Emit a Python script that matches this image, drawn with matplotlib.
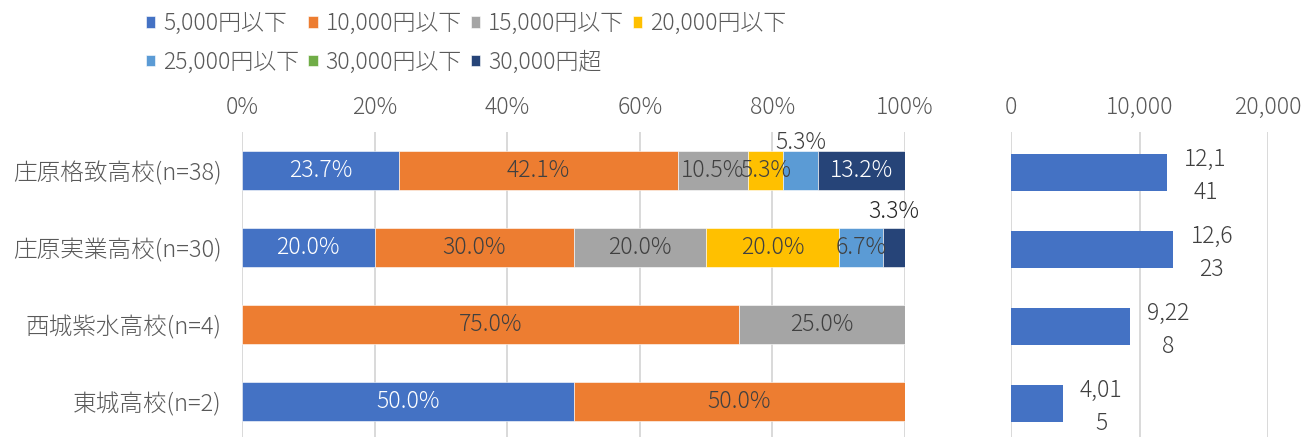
import matplotlib
matplotlib.use("Agg")
import matplotlib.pyplot as plt
import numpy as np

plt.rcParams['font.family'] = ['Noto Sans CJK JP', 'DejaVu Sans']
plt.rcParams['font.weight'] = 'light'

categories = ["庄原格致高校(n=38)", "庄原実業高校(n=30)", "西城紫水高校(n=4)", "東城高校(n=2)"]
series_names = ["5,000円以下", "10,000円以下", "15,000円以下", "20,000円以下",
                "25,000円以下", "30,000円以下", "30,000円超"]
shares = [
    [23.7, 42.1, 10.5, 5.3, 5.3, 0.0, 13.2],
    [20.0, 30.0, 20.0, 20.0, 6.7, 0.0, 3.3],
    [0.0, 75.0, 25.0, 0.0, 0.0, 0.0, 0.0],
    [50.0, 50.0, 0.0, 0.0, 0.0, 0.0, 0.0],
]
amounts = [12141, 12623, 9228, 4015]
pct_ticks = [0, 20, 40, 60, 80, 100]
amt_ticks = [0, 10000, 20000]

colors = ["#4472C4", "#ED7D31", "#A5A5A5", "#FFC000", "#5B9BD5", "#70AD47", "#264478"]
label_colors = ["white", "#404040", "#404040", "#404040", "#404040", "#404040", "white"]
gray_txt = "#595959"
grid_c = "#D9D9D9"
FS = 16.5

W, H = 1311, 437
fig = plt.figure(figsize=(W / 100, H / 100), dpi=100)

ax = fig.add_axes([242 / W, -3 / H, 663 / W, 308 / H])
ax2 = fig.add_axes([1011 / W, -3 / H, 257 / W, 308 / H])

y = np.arange(len(categories))
data = np.array(shares)
left = np.zeros(len(categories))
handles = []
for j, name in enumerate(series_names):
    vals = data[:, j]
    b = ax.barh(y, vals, left=left, height=0.5, color=colors[j], label=name,
                edgecolor="white", linewidth=0.4, zorder=2)
    handles.append(b)
    for i, v in enumerate(vals):
        if v <= 0:
            continue
        cx = left[i] + v / 2
        if v < 5.0 and j == 6:
            ax.text(cx, y[i] - 0.47, f"{v:.1f}%", ha="center", va="center",
                    fontsize=FS, color="#262626", zorder=3)
        elif j == 4 and i == 0:
            ax.text(cx, y[i] - 0.36, f"{v:.1f}%", ha="center", va="center",
                    fontsize=FS, color="#404040", zorder=3)
        else:
            ax.text(cx, y[i], f"{v:.1f}%", ha="center", va="center",
                    fontsize=FS, color=label_colors[j], zorder=3)
    left = left + vals

ax.set_xlim(0, 100)
ax.set_ylim(len(categories) - 0.5, -0.5)
ax.set_xticks(pct_ticks)
ax.set_xticklabels([f"{t}%" for t in pct_ticks])
ax.set_yticks(y)
ax.set_yticklabels(categories)
ax.xaxis.tick_top()
ax.tick_params(axis="x", length=0, pad=8.5, labelsize=FS, colors=gray_txt)
ax.tick_params(axis="y", length=0, pad=14.5, labelsize=17, colors=gray_txt)
ax.grid(axis="x", color=grid_c, linewidth=1.4, zorder=0)
for s in ax.spines.values():
    s.set_visible(False)

ax2.barh(y + 0.03, amounts, height=0.48, color=colors[0], zorder=2)
for i, v in enumerate(amounts):
    s = f"{v:,}"
    s = s[:4] + "\n" + s[4:]
    ax2.text(v + 3000, y[i] + 0.07, s, ha="center", va="center", fontsize=FS,
             color="#404040", linespacing=1.45, zorder=3)
ax2.set_xlim(0, 20000)
ax2.set_ylim(len(categories) - 0.5, -0.5)
ax2.set_xticks(amt_ticks)
ax2.set_xticklabels([f"{t:,}" for t in amt_ticks])
ax2.set_yticks([])
ax2.xaxis.tick_top()
ax2.tick_params(axis="x", length=0, pad=8.5, labelsize=FS, colors=gray_txt)
ax2.grid(axis="x", color=grid_c, linewidth=1.4, zorder=0)
for s in ax2.spines.values():
    s.set_visible(False)

order = [0, 4, 1, 5, 2, 6, 3]
leg = fig.legend([handles[k] for k in order], [series_names[k] for k in order],
                 ncol=4, loc="upper left", bbox_to_anchor=(146 / W, 1 - 11 / H),
                 frameon=False, fontsize=FS, handlelength=0.4, handleheight=0.4,
                 handletextpad=0.35, columnspacing=0.4, labelspacing=0.6,
                 borderpad=0, borderaxespad=0, labelcolor=gray_txt)

fig.savefig("out.png", dpi=100)
